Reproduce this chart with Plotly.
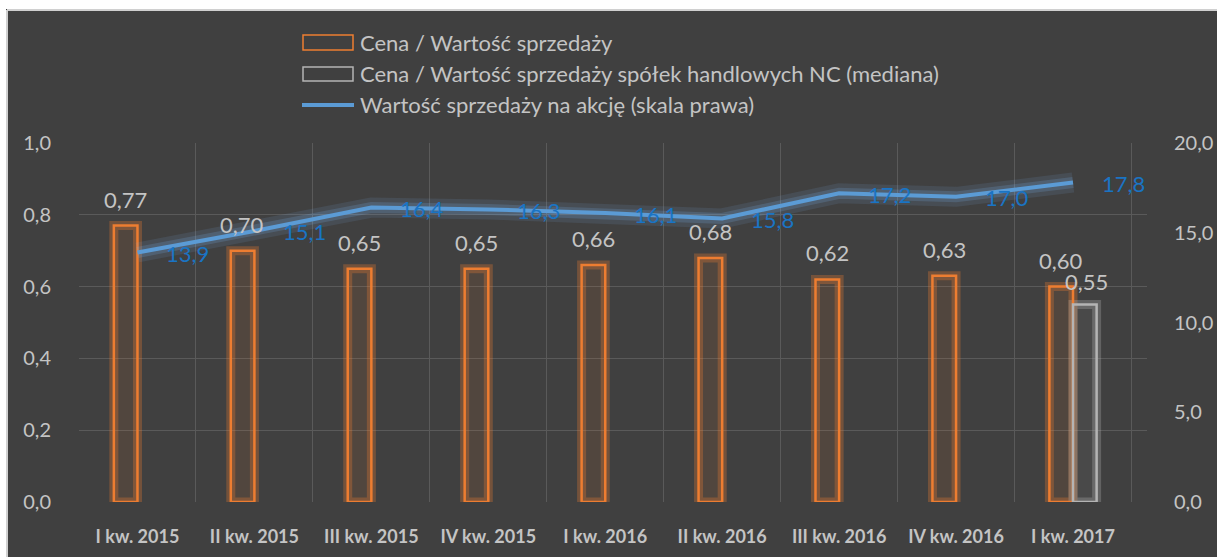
import plotly.graph_objects as go

categories = ["I kw. 2015", "II kw. 2015", "III kw. 2015", "IV kw. 2015", "I kw. 2016",
              "II kw. 2016", "III kw. 2016", "IV kw. 2016", "I kw. 2017"]
price_sales = [0.77, 0.70, 0.65, 0.65, 0.66, 0.68, 0.62, 0.63, 0.60]
price_sales_nc = [None, None, None, None, None, None, None, None, 0.55]
sales_per_share = [13.9, 15.1, 16.4, 16.3, 16.1, 15.8, 17.2, 17.0, 17.8]

legend_names = ["Cena / Wartość sprzedaży",
                "Cena / Wartość sprzedaży spółek handlowych NC (mediana)",
                "Wartość sprzedaży na akcję (skala prawa)"]

W, H = 1217, 557
L, R, T, B = 79, 1147, 143, 502
FONT = "Lato"
TXT = "#c4c4c4"
ORANGE = "#ED7D31"
GREY = "#B4B4B4"
BLUE = "#5B9BD5"
LBL_BLUE = "#1A74C4"

def px(x):
    return (x - L) / (R - L)

def py(y):
    return (B - y) / (B - T)

def fmt(v, d):
    return f"{v:.{d}f}".replace(".", ",")

fig = go.Figure()

# glow layers for bars
fig.add_trace(go.Bar(x=categories, y=price_sales, offsetgroup="a", showlegend=False,
                     marker=dict(color="rgba(237,125,49,0.10)",
                                 line=dict(color="rgba(237,125,49,0.30)", width=9)),
                     hoverinfo="skip"))
fig.add_trace(go.Bar(x=categories, y=price_sales_nc, offsetgroup="b", showlegend=False,
                     marker=dict(color="rgba(180,180,180,0.08)",
                                 line=dict(color="rgba(180,180,180,0.30)", width=9)),
                     hoverinfo="skip"))
# main bars
fig.add_trace(go.Bar(x=categories, y=price_sales, offsetgroup="a", name=legend_names[0],
                     marker=dict(color="rgba(0,0,0,0)", line=dict(color=ORANGE, width=2.5)),
                     showlegend=False))
fig.add_trace(go.Bar(x=categories, y=price_sales_nc, offsetgroup="b", name=legend_names[1],
                     marker=dict(color="rgba(0,0,0,0)", line=dict(color=GREY, width=2.5)),
                     showlegend=False))
# line glow + line
fig.add_trace(go.Scatter(x=categories, y=sales_per_share, yaxis="y2", mode="lines",
                         line=dict(color="rgba(120,175,230,0.12)", width=20),
                         showlegend=False, hoverinfo="skip"))
fig.add_trace(go.Scatter(x=categories, y=sales_per_share, yaxis="y2", mode="lines",
                         line=dict(color="rgba(120,175,230,0.20)", width=11),
                         showlegend=False, hoverinfo="skip"))
fig.add_trace(go.Scatter(x=categories, y=sales_per_share, yaxis="y2", mode="lines",
                         name=legend_names[2], line=dict(color=BLUE, width=4),
                         showlegend=False))

annotations = []
for c, v in zip(categories, price_sales):
    annotations.append(dict(x=c, y=v, xref="x", yref="y", text=fmt(v, 2), showarrow=False,
                            xanchor="center", yanchor="bottom", xshift=-12, yshift=11,
                            font=dict(family=FONT, size=22, color=TXT)))
for c, v in zip(categories, price_sales_nc):
    if v is not None:
        annotations.append(dict(x=c, y=v, xref="x", yref="y", text=fmt(v, 2), showarrow=False,
                                xanchor="center", yanchor="bottom", xshift=13, yshift=8,
                                font=dict(family=FONT, size=22, color=TXT)))
for c, v in zip(categories, sales_per_share):
    annotations.append(dict(x=c, y=v, xref="x", yref="y2", text=fmt(v, 1), showarrow=False,
                            xanchor="left", yanchor="middle", xshift=27, yshift=-1,
                            font=dict(family=FONT, size=22, color=LBL_BLUE)))

# white outer frame + manual legend
leg_y = [42, 73, 104]
shapes = [
    dict(type="rect", xref="paper", yref="paper", x0=px(-5), x1=px(W + 5), y0=py(9), y1=py(-5),
         fillcolor="white", line=dict(width=0), layer="below"),
    dict(type="rect", xref="paper", yref="paper", x0=px(-5), x1=px(6), y0=py(H + 5), y1=py(-5),
         fillcolor="white", line=dict(width=0), layer="below"),
    dict(type="line", xref="paper", yref="paper", x0=px(7), x1=px(W + 5), y0=py(10), y1=py(10),
         line=dict(color="#d0d0d0", width=2), layer="below"),
    dict(type="line", xref="paper", yref="paper", x0=px(7), x1=px(7), y0=py(10), y1=py(H + 5),
         line=dict(color="#d0d0d0", width=2), layer="below"),
    dict(type="rect", xref="paper", yref="paper", x0=px(303), x1=px(353), y0=py(50), y1=py(35),
         fillcolor="rgba(0,0,0,0)", line=dict(color=ORANGE, width=1.5)),
    dict(type="rect", xref="paper", yref="paper", x0=px(303), x1=px(353), y0=py(81), y1=py(67),
         fillcolor="rgba(0,0,0,0)", line=dict(color=GREY, width=1.5)),
    dict(type="line", xref="paper", yref="paper", x0=px(302), x1=px(354), y0=py(105), y1=py(105),
         line=dict(color=BLUE, width=4)),
]
for name, yy in zip(legend_names, leg_y):
    annotations.append(dict(x=px(358), y=py(yy), xref="paper", yref="paper", text=name,
                            showarrow=False, xanchor="left", yanchor="middle",
                            font=dict(family=FONT, size=22, color=TXT)))

fig.update_layout(
    width=W, height=H,
    margin=dict(l=L, r=W - R, t=T, b=H - B, autoexpand=False),
    paper_bgcolor="#404040", plot_bgcolor="rgba(0,0,0,0)",
    separators=", ",
    barmode="group", bargap=0.596, bargroupgap=0,
    showlegend=False,
    shapes=shapes, annotations=annotations,
    xaxis=dict(type="category", tickson="boundaries", showgrid=True, gridcolor="#5a5a5a",
               gridwidth=1, ticks="", showline=False, zeroline=False, automargin=False,
               tickfont=dict(family=FONT, size=18, color=TXT, weight="bold"),
               ticklabelstandoff=22),
    yaxis=dict(range=[0, 1.0], dtick=0.2, tickformat=".1f", showgrid=True, gridcolor="#5a5a5a",
               gridwidth=1, zeroline=False, showline=False, ticks="", automargin=False,
               tickfont=dict(family=FONT, size=20, color=TXT), ticklabelstandoff=27),
    yaxis2=dict(range=[0, 20], dtick=5, tickformat=".1f", overlaying="y", side="right",
                showgrid=False, zeroline=False, showline=False, ticks="", automargin=False,
                tickfont=dict(family=FONT, size=20, color=TXT), ticklabelstandoff=26),
)

fig.write_html("out.html", config={"displayModeBar": False},
               post_script="document.body.style.margin='0';document.body.style.overflow='hidden';")
